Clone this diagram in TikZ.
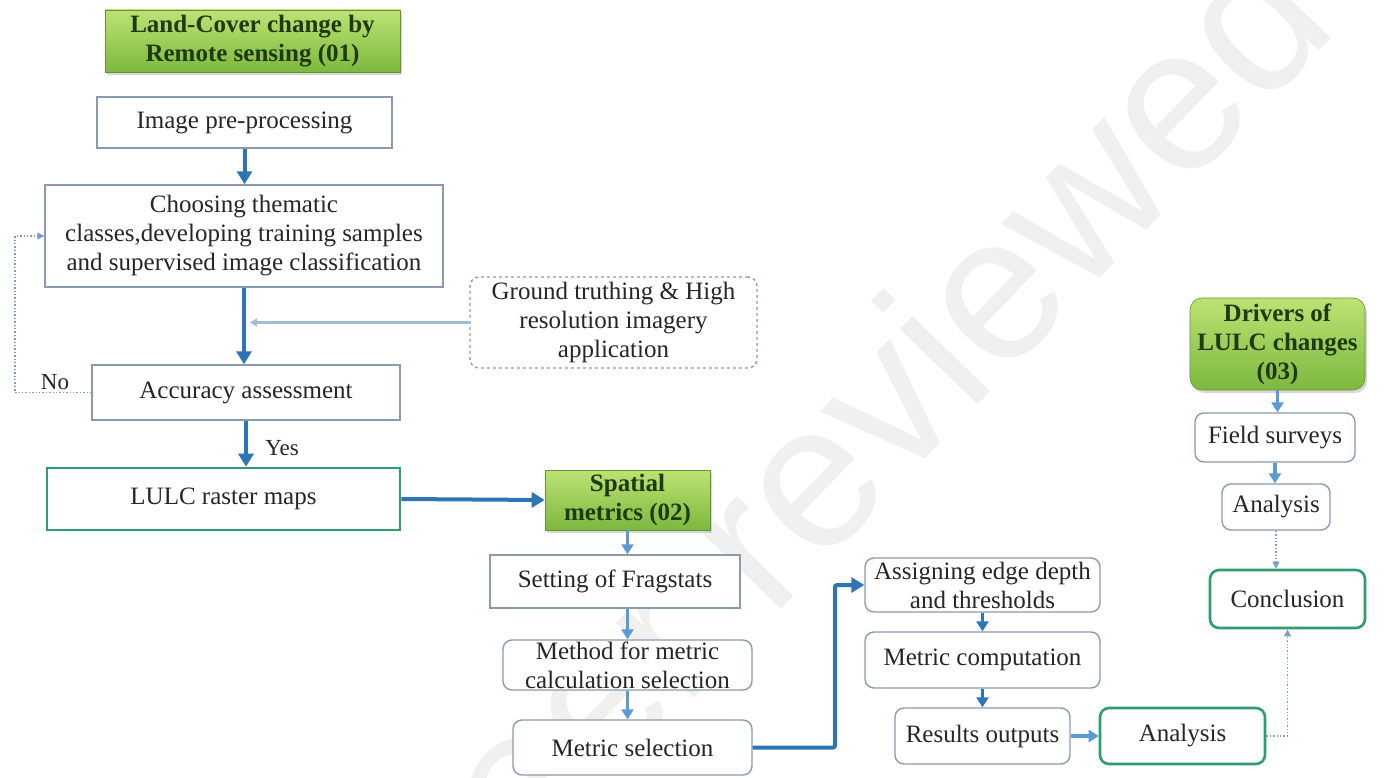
\documentclass[tikz,border=0pt]{standalone}
\usepackage{fontspec}
\setmainfont{Liberation Serif}
\newfontfamily\wmfont{Liberation Sans}
\usetikzlibrary{arrows.meta,shadows}
\definecolor{boxgray}{HTML}{8A9BB0}
\definecolor{darkblue}{HTML}{2E75B6}
\definecolor{lightblue}{HTML}{5B9BD5}
\definecolor{thinblue}{HTML}{A3BDD6}
\definecolor{dotblue}{HTML}{7F9CC8}
\definecolor{gborder}{HTML}{2E9E6A}
\definecolor{gtop}{HTML}{BCE374}
\definecolor{gbot}{HTML}{7DB83E}
\definecolor{gtext}{HTML}{1F3A12}
\tikzset{
  base/.style={font=\fontsize{25}{29}\selectfont, align=center, inner sep=0pt, text=black!85},
  plainbox/.style={base, draw=boxgray, line width=1.4pt, fill=white},
  roundbox/.style={plainbox, rounded corners=9pt},
  gtbox/.style={roundbox, dashed},
  greenedge/.style={base, draw=gborder, line width=2.6pt, fill=white},
  greenround/.style={greenedge, rounded corners=9pt},
  titlebox/.style={base, font=\bfseries\fontsize{25}{29}\selectfont, text=gtext,
     top color=gtop, bottom color=gbot, draw=gbot!80!black, line width=0.6pt,
     drop shadow={opacity=0.3, shadow xshift=2pt, shadow yshift=-3pt}},
  lbl/.style={font=\fontsize{23}{27}\selectfont, text=black!85, inner sep=0pt},
  thickarrow/.style={draw=darkblue, line width=4pt, -{Triangle[length=13pt,width=15pt]}},
  darkmed/.style={draw=darkblue, line width=3.4pt, -{Triangle[length=10pt,width=12pt]}},
  medarrow/.style={draw=lightblue, line width=3.4pt, -{Triangle[length=10pt,width=12pt]}},
  thinarrow/.style={draw=thinblue, line width=2.2pt, -{Triangle[length=7pt,width=8pt]}},
  dotarrow/.style={draw=dotblue, line width=1.4pt, dotted, -{Triangle[length=7pt,width=7pt]}}
}
\begin{document}
\begin{tikzpicture}[x=1pt,y=-1pt]
\useasboundingbox[fill=white] (0,0) rectangle (1394,778);
% watermark
\node[font=\wmfont\fontsize{205}{205}\selectfont, text=black!6, rotate=46, anchor=base, inner sep=0pt] (wm) at (886,500) {Peer reviewed};
% column 1
\node[titlebox, minimum width=295pt, minimum height=62pt] (t1) at (252.5,41) {Land-Cover change by\\Remote sensing (01)};
\node[plainbox, minimum width=295pt, minimum height=51pt] (ip) at (244.5,122.5) {Image pre-processing};
\node[plainbox, minimum width=398pt, minimum height=102pt] (ch) at (244,236) {Choosing thematic\\classes,developing training samples\\and supervised image classification};
\node[gtbox, minimum width=287pt, minimum height=91pt] (gt) at (613.5,322.5) {Ground truthing \& High\\resolution imagery\\application};
\node[plainbox, minimum width=308pt, minimum height=55pt] (ac) at (246,392.5) {Accuracy assessment};
\node[greenedge, minimum width=353pt, minimum height=62pt] (lu) at (223.5,499) {LULC raster maps};
\node[lbl] (yes) at (282,448) {Yes};
\node[lbl] (no) at (55,382) {No};
\coordinate (noc) at (15,392.5);
% column 2
\node[titlebox, minimum width=165pt, minimum height=60pt] (sp) at (627.5,500) {Spatial\\metrics (02)};
\node[plainbox, minimum width=250pt, minimum height=53pt] (sf) at (615,581.5) {Setting of Fragstats};
\node[roundbox, minimum width=249pt, minimum height=50pt] (me) at (627.5,665) {Method for metric\\calculation selection};
\node[roundbox, minimum width=239pt, minimum height=55pt] (ms) at (632.5,747.5) {Metric selection};
\coordinate (jx) at (835,0);
% column 3
\node[roundbox, minimum width=235pt, minimum height=54pt] (as) at (982.5,585) {Assigning edge depth\\and thresholds};
\node[roundbox, minimum width=235pt, minimum height=56pt] (mc) at (982.5,660) {Metric computation};
\node[roundbox, minimum width=175pt, minimum height=56pt] (ro) at (982.5,736) {Results outputs};
\node[greenround, minimum width=165pt, minimum height=56pt] (an) at (1182.5,736) {Analysis};
% column 4
\node[titlebox, rounded corners=12pt, minimum width=175pt, minimum height=92pt] (dr) at (1277.5,344) {Drivers of\\LULC changes\\(03)};
\node[roundbox, minimum width=160pt, minimum height=49pt] (fs) at (1275,437.5) {Field surveys};
\node[roundbox, minimum width=108pt, minimum height=46pt] (a2) at (1276,507) {Analysis};
\node[greenround, minimum width=155pt, minimum height=58pt] (co) at (1287.5,599) {Conclusion};
% connectors
\draw[thickarrow] (ip.south) -- (ip.south |- ch.north);
\draw[thickarrow] (ch.south) -- (ch.south |- ac.north);
\draw[thinarrow] (gt.west) -- ([xshift=6pt]gt.west -| ch.south);
\draw[thickarrow] (ac.south) -- (ac.south |- lu.north);
\draw[dotarrow] (ac.west) -- (noc) |- (ch.west);
\draw[thickarrow] (lu.east) -- (sp.west);
\draw[medarrow] (sp.south) -- (sp.south |- sf.north);
\draw[medarrow] (sp.south |- sf.south) -- (sp.south |- me.north);
\draw[medarrow] (sp.south |- me.south) -- (sp.south |- ms.north);
\draw[thickarrow, rounded corners=2pt] (ms.east) -- (ms.east -| jx) |- (as.west);
\draw[darkmed] (as.south) -- (mc.north);
\draw[darkmed] (mc.south) -- (ro.north);
\draw[medarrow] (ro.east) -- (an.west);
\draw[dotarrow] (an.east) -| (co.south);
\draw[medarrow] (dr.south) -- (dr.south |- fs.north);
\draw[medarrow] (fs.south) -- (fs.south |- a2.north);
\draw[dotarrow] (a2.south) -- (a2.south |- co.north);
\end{tikzpicture}
\end{document}
